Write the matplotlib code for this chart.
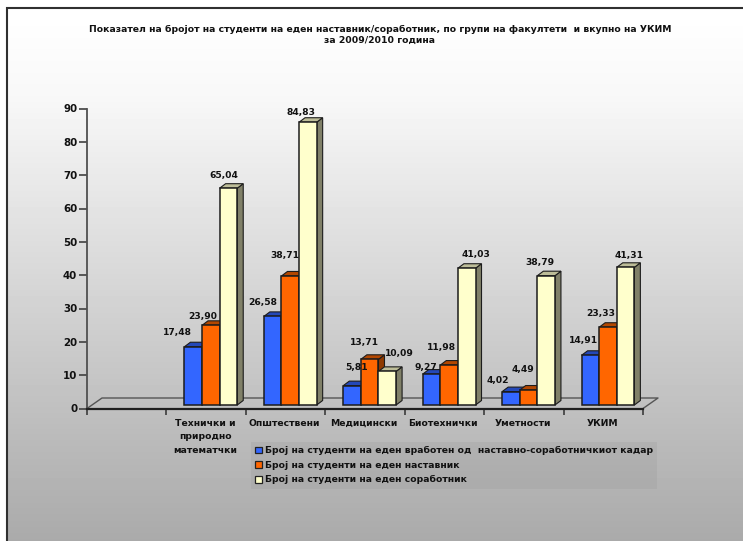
import numpy as np
import matplotlib
matplotlib.use("Agg")
import matplotlib.pyplot as plt
from matplotlib.patches import Polygon, Patch
from matplotlib.transforms import Affine2D

title = ("Показател на бројот на студенти на еден наставник/соработник, по групи на факултети  и вкупно на УКИМ\n"
         "за 2009/2010 година")
categories = ["", "Технички и\nприродно\nматематчки", "Општествени", "Медицински",
              "Биотехнички", "Уметности", "УКИМ"]
series_names = ["Број на студенти на еден вработен од  наставно-соработничкиот кадар",
                "Број на студенти на еден наставник",
                "Број на студенти на еден соработник"]
staff = [17.48, 26.58, 5.81, 9.27, 4.02, 14.91]
teachers = [23.90, 38.71, 13.71, 11.98, 4.49, 23.33]
assistants = [65.04, 84.83, 10.09, 41.03, 38.79, 41.31]
yticks = list(range(0, 100, 10))

# label nudges in pixels (dx, up) relative to bar centre / front top
nudges = [
    [(-16, 14), (-10, 14), (4, 18), (-6, 7), (-13, 11), (-7, 15)],
    [(-8, 9), (-5, 20), (-5, 17), (-8, 18), (-6, 21), (-7, 14)],
    [(-5, 13), (-7, 10), (12, 18), (9, 14), (-6, 13), (3, 12)],
]
front = ["#3366FF", "#FF6600", "#FFFFCC"]
shade_top = ["#2448B8", "#B34700", "#BDBD98"]
shade_side = ["#1F3D99", "#8F3A00", "#808068"]

W, H = 743, 541
fig = plt.figure(figsize=(W / 100, H / 100), dpi=100)
fig.patch.set_facecolor("white")

# background gradient and frame
bg = fig.add_axes([0, 0, 1, 1], zorder=-5)
rows = np.arange(H)
grey = np.interp(rows, [7, 90, 440, 541], [255, 248, 186, 170]) / 255
bg.imshow(grey[:, None], cmap="gray", vmin=0, vmax=1, aspect="auto",
          extent=(6, W, H, 7), interpolation="nearest")
bg.set_xlim(0, W); bg.set_ylim(H, 0); bg.axis("off")
bg.plot([6.5, 6.5, W], [H, 7.5, 7.5], color="#303030", lw=1.5, solid_joinstyle="miter")

# plot axes: 0..7 categories across x 87..643 px, 0..90 across y 408.5..108.5 px
x0, x1, y0, y1 = 87, 643, 408.5, 108.5
ax = fig.add_axes([x0 / W, 1 - y0 / H, (x1 - x0) / W, (y0 - y1) / H])
ax.set_xlim(0, 6 + 1)
ax.set_ylim(0, 90)
ax.patch.set_alpha(0)
sx = (x1 - x0) / 7
sy = (y0 - y1) / 90
px, py = 1 / sx, 1 / sy

for s in ("top", "right"):
    ax.spines[s].set_visible(False)
ax.spines["left"].set_color("#505050")
ax.spines["left"].set_linewidth(1.3)
ax.spines["bottom"].set_color("#202020")
ax.spines["bottom"].set_linewidth(1.6)
ax.set_yticks(yticks)
ax.tick_params(axis="y", length=6, width=1.2, color="#404040", pad=1,
               labelsize=7.4, labelcolor="#111111")
ax.set_xticks(range(8))
ax.set_xticklabels([])
ax.tick_params(axis="x", length=4.5, width=1.1, color="#303030")
for t in ax.get_yticklabels():
    t.set_fontweight("bold")

# floor
depth_x, depth_y = 15 * px, 10.5 * py
ax.plot([0, depth_x, 7 + depth_x, 7], [0, depth_y, depth_y, 0], color="#555555",
        lw=1.0, clip_on=False, zorder=1.5)

for i, lab in enumerate(categories):
    for k, line in enumerate(lab.split("\n")):
        ax.annotate(line, (i + 0.5, 0), xytext=(-1, -17.5 - 13.3 * k), textcoords="offset pixels",
                    ha="center", va="baseline", fontsize=6.7, fontweight="bold", color="#111111",
                    annotation_clip=False)

# bars
values = [staff, teachers, assistants]
bw = 17.6 * px
ox, oy = 18 * px, 3.5 * py
bd_x, bd_y = 6 * px, 4.5 * py
edge = "#1c1c1c"
shift = ax.transData + Affine2D().translate(0, 3.5)
for c in range(6):
    for s in range(3):
        v = values[s][c]
        left = c + 1 + ox + s * bw
        right = left + bw
        ax.add_patch(Polygon([(right, oy), (right + bd_x, oy + bd_y),
                              (right + bd_x, oy + v + bd_y), (right, oy + v)],
                             facecolor=shade_side[s], edgecolor=edge, lw=0.8,
                             clip_on=False, zorder=3 + 3 * c + s))
        ax.add_patch(Polygon([(left, oy + v), (right, oy + v),
                              (right + bd_x, oy + v + bd_y), (left + bd_x, oy + v + bd_y)],
                             facecolor=shade_top[s], edgecolor=edge, lw=0.8,
                             clip_on=False, zorder=3 + 3 * c + s))
        ax.bar(left, v, width=bw, align="edge", transform=shift, color=front[s],
               edgecolor=edge, linewidth=1.1, clip_on=False, zorder=3.1 + 3 * c + s)
for c in range(6):
    for s in range(3):
        v = values[s][c]
        cx = c + 1 + ox + (s + 0.5) * bw
        dx, up = nudges[s][c]
        ax.annotate(f"{v:.2f}".replace(".", ","), (cx, v + oy),
                    xytext=(dx, up), textcoords="offset pixels",
                    ha="center", va="center", fontsize=6.6, fontweight="bold",
                    color="#111111", annotation_clip=False, zorder=50)

# legend
handles = [Patch(facecolor=front[s], edgecolor="#222222", linewidth=0.9) for s in range(3)]
leg = fig.legend(handles, series_names, loc="upper left",
                 bbox_to_anchor=(251 / W, 1 - 442 / H), borderaxespad=0,
                 prop={"size": 6.7, "weight": "bold"}, handlelength=0.72, handleheight=0.72,
                 handletextpad=0.3, labelspacing=0.6, borderpad=0.45,
                 frameon=True, fancybox=False, facecolor="#909090", edgecolor="none",
                 framealpha=0.2, labelcolor="#111111")

fig.text(380 / W, 1 - 35 / H, title, ha="center", va="center", fontsize=6.7,
         fontweight="bold", color="#111111", linespacing=1.2)

fig.savefig("out.png", dpi=100)
